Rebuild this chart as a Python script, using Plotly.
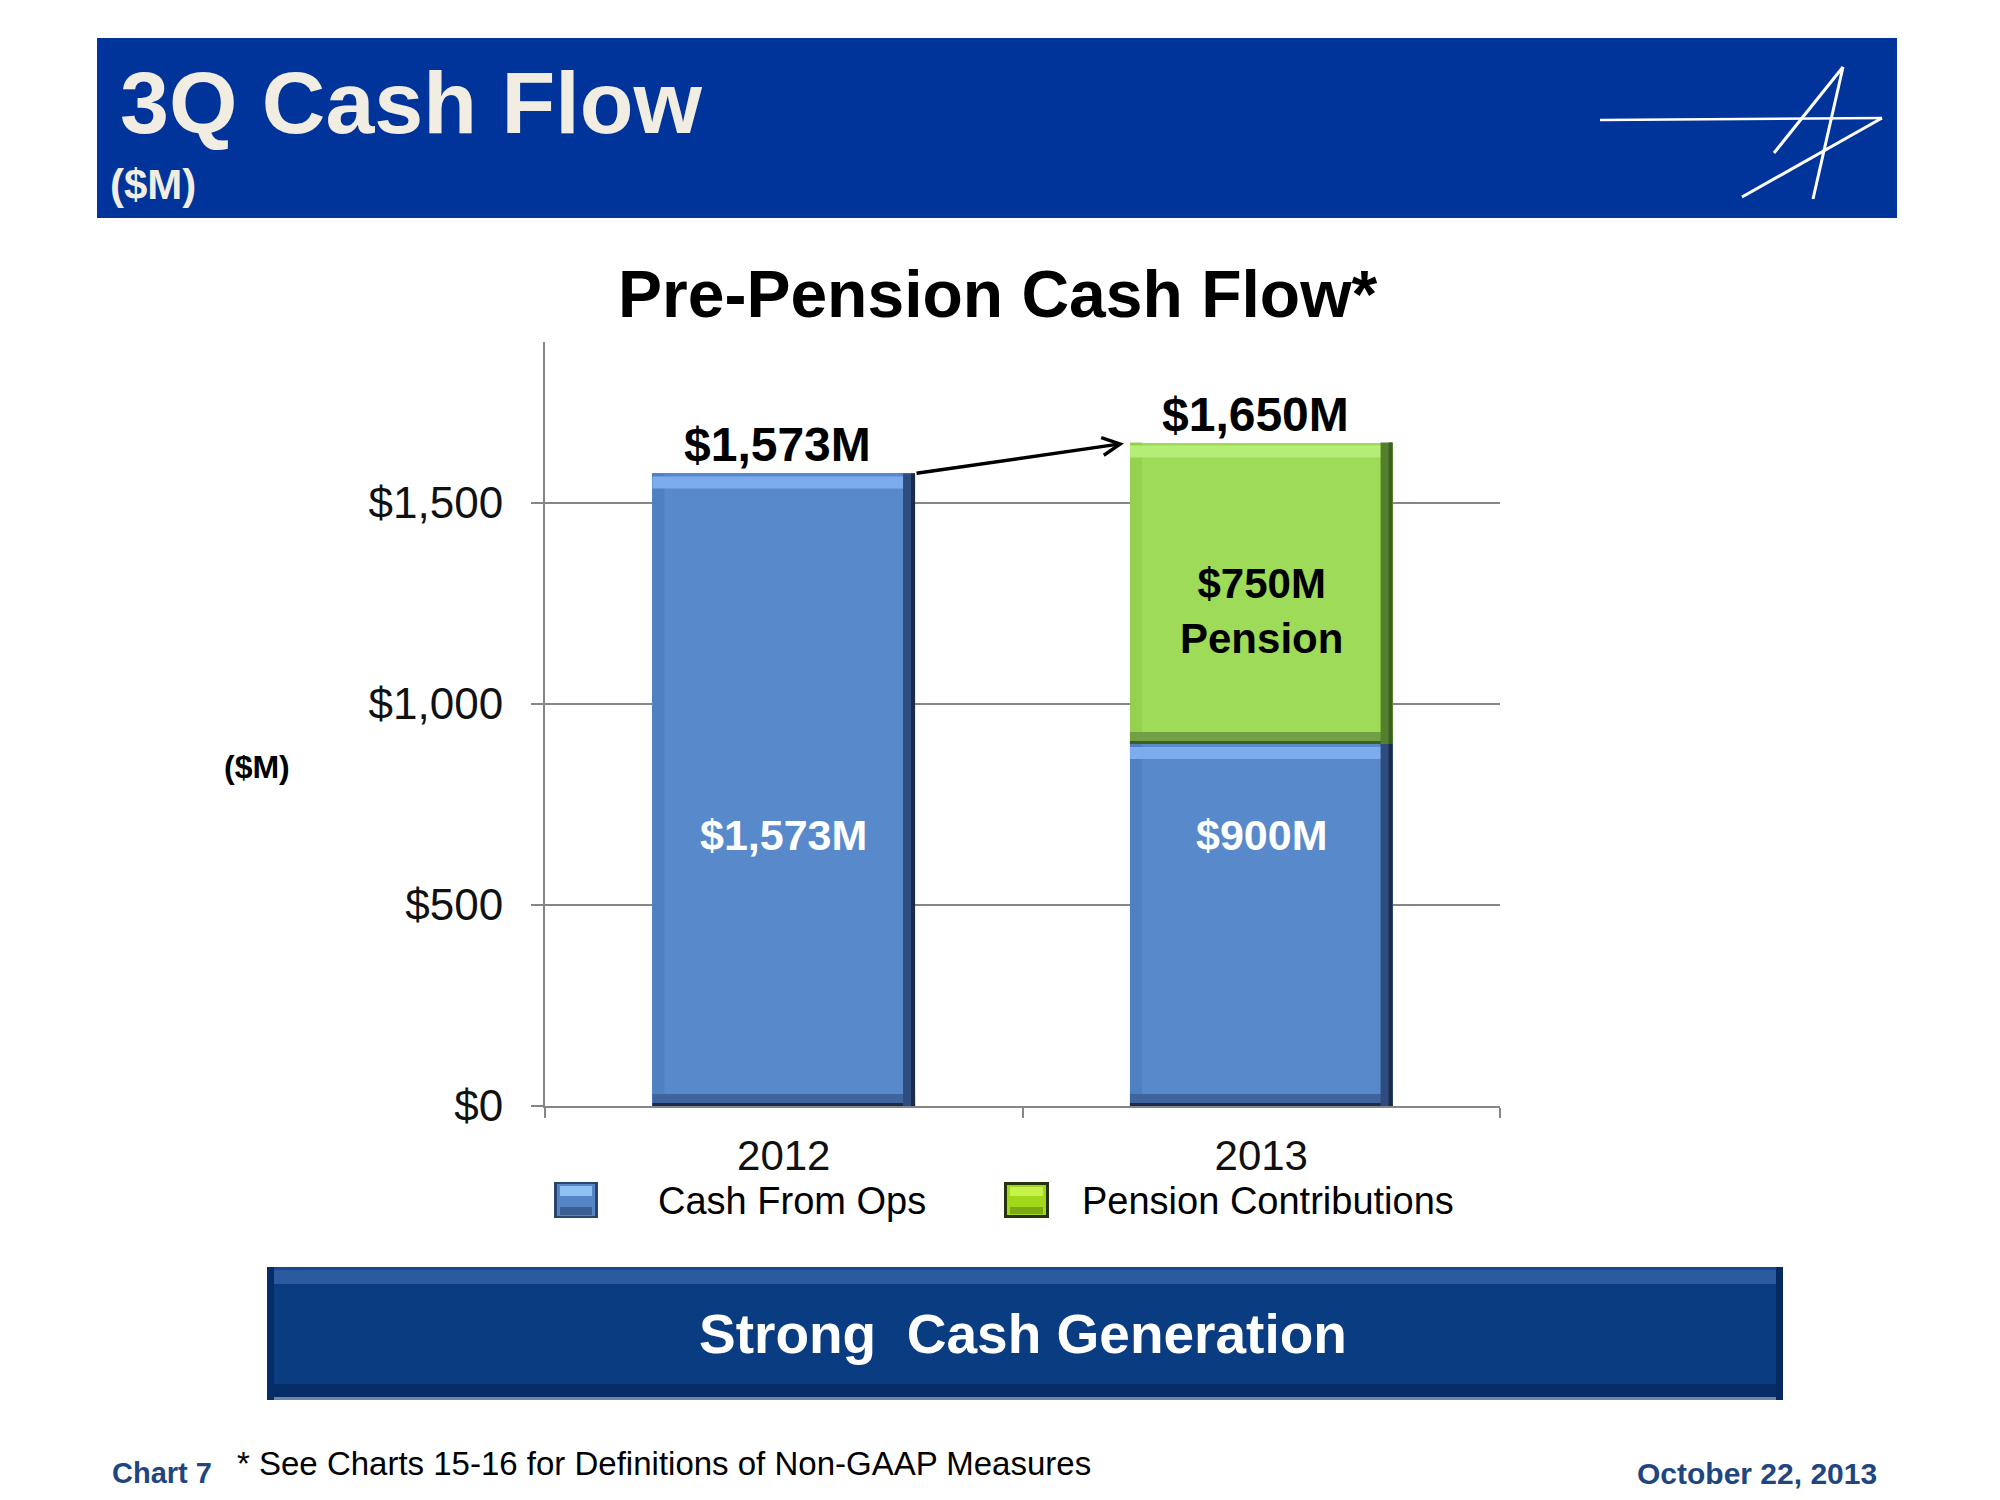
import plotly.graph_objects as go

# ---------------- data ----------------
years = ["2012", "2013"]
cash_from_ops = [1573, 900]
pension_contrib = [0, 750]
total_labels = ["$1,573M", "$1,650M"]
ops_labels = ["$1,573M", "$900M"]
pension_labels = ["", "$750M<br>Pension"]
y_ticks = [0, 500, 1000, 1500]
y_tick_text = ["$0", "$500", "$1,000", "$1,500"]
legend_names = ["Cash From Ops", "Pension Contributions"]

W, H = 2000, 1500
FONT = "Liberation Sans"
BAR_W = 0.55
BLUE = dict(main="#5889cb", top="#7cacee", left="#4f80c2", right="#2e4c7e", edge="#1c2c48", bottom="#40649d")
GREEN = dict(main="#9edb58", top="#b5ed76", left="#93d14f", right="#52802c", edge="#3f5e22", bottom="#739f44")


def px(x):
    return x / W


def py(y):
    return 1 - y / H


fig = go.Figure()
fig.add_trace(go.Bar(x=years, y=cash_from_ops, name=legend_names[0], width=BAR_W,
                     marker=dict(color=BLUE["main"], line=dict(width=0))))
fig.add_trace(go.Bar(x=years, y=pension_contrib, name=legend_names[1], width=BAR_W,
                     marker=dict(color=GREEN["main"], line=dict(width=0))))

shapes = []

# ---- bevel decoration on bar segments (anchored on data values) ----
def bevel(i, base, top, pal):
    xl, xr = i - BAR_W / 2, i + BAR_W / 2
    common = dict(xref="x", yref="y", layer="above", line=dict(width=0))
    shapes.append(dict(type="rect", xsizemode="pixel", xanchor=xl, x0=0, x1=12,
                       y0=base, y1=top, fillcolor=pal["left"], **common))
    shapes.append(dict(type="rect", ysizemode="pixel", yanchor=base, y0=0, y1=12,
                       x0=xl, x1=xr, fillcolor=pal["bottom"], **common))
    shapes.append(dict(type="rect", ysizemode="pixel", yanchor=base, y0=0, y1=3,
                       x0=xl, x1=xr, fillcolor=pal["edge"], **common))
    shapes.append(dict(type="rect", ysizemode="pixel", yanchor=top, y0=-15, y1=-3,
                       x0=xl, x1=xr, fillcolor=pal["top"], **common))
    shapes.append(dict(type="rect", xsizemode="pixel", xanchor=xr, x0=-12, x1=0,
                       y0=base, y1=top, fillcolor=pal["right"], **common))
    shapes.append(dict(type="rect", xsizemode="pixel", xanchor=xr, x0=-4, x1=0,
                       y0=base, y1=top, fillcolor=pal["edge"], **common))


for i in range(len(years)):
    if cash_from_ops[i] > 0:
        bevel(i, 0, cash_from_ops[i], BLUE)
    if pension_contrib[i] > 0:
        bevel(i, cash_from_ops[i], cash_from_ops[i] + pension_contrib[i], GREEN)

# ---- header band ----
shapes.append(dict(type="rect", xref="paper", yref="paper", x0=px(97), x1=px(1897),
                   y0=py(218), y1=py(38), fillcolor="#00349b", line=dict(width=0), layer="below"))
# logo strokes
logo = [((1600, 120), (1882, 118), 2.5), ((1882, 118), (1742, 197), 3),
        ((1843, 67), (1774, 153), 3), ((1843, 67), (1813, 199), 3)]
for (a, b, w) in logo:
    shapes.append(dict(type="line", xref="paper", yref="paper", x0=px(a[0]), y0=py(a[1]),
                       x1=px(b[0]), y1=py(b[1]), line=dict(color="white", width=w)))

# ---- bottom banner ----
def prect(x0, y0, x1, y1, color):
    shapes.append(dict(type="rect", xref="paper", yref="paper", x0=px(x0), x1=px(x1),
                       y0=py(y1), y1=py(y0), fillcolor=color, line=dict(width=0), layer="below"))


prect(267, 1267, 1783, 1400, "#0a3c82")
prect(267, 1267, 1783, 1270, "#16488f")
prect(272, 1270, 1778, 1284, "#2b5a9f")
prect(267, 1384, 1783, 1397, "#072d66")
prect(267, 1397, 1783, 1400, "#6f84a8")
prect(267, 1267, 274, 1400, "#062d68")
prect(1776, 1267, 1783, 1400, "#062a60")

# ---- legend swatches ----
prect(554, 1182, 598, 1218, "#28456e")
prect(557, 1184, 595, 1216, "#5585c4")
prect(560, 1186, 592, 1196, "#8fc0f2")
prect(560, 1207, 592, 1215, "#3c5f92")
prect(1004, 1182, 1049, 1218, "#26330f")
prect(1007, 1185, 1046, 1215, "#a0d81c")
prect(1010, 1187, 1043, 1196, "#c6f24a")
prect(1010, 1207, 1043, 1214, "#7da814")

annotations = []


def ann(text, x, y, size, color="black", bold=False, xanchor="center", yanchor="middle", **kw):
    t = f"<b>{text}</b>" if bold else text
    annotations.append(dict(text=t, x=px(x), y=py(y), xref="paper", yref="paper",
                            showarrow=False, xanchor=xanchor, yanchor=yanchor,
                            font=dict(family=FONT, size=size, color=color), **kw))


ann("3Q Cash Flow", 118, 103, 88, color="#f1ede3", bold=True, xanchor="left")
ann("($M)", 108, 185, 42, color="#f1ede3", bold=True, xanchor="left")
ann("Pre-Pension Cash Flow*", 997, 294, 66, bold=True)
ann("($M)", 257, 767, 32, bold=True)
ann(legend_names[0], 656, 1201, 38, xanchor="left")
ann(legend_names[1], 1080, 1201, 38, xanchor="left")
ann("Strong\u00a0 Cash Generation", 1023, 1334, 55, color="white", bold=True)
ann("Chart 7", 110, 1473, 29, color="#21467f", bold=True, xanchor="left")
ann("* See Charts 15-16 for Definitions of Non-GAAP Measures", 235, 1463, 33, xanchor="left")
ann("October 22, 2013", 1879, 1473, 30, color="#21467f", bold=True, xanchor="right")

# data-driven labels
for i in range(len(years)):
    tot = cash_from_ops[i] + pension_contrib[i]
    annotations.append(dict(text=f"<b>{total_labels[i]}</b>", x=i, y=tot, xref="x", yref="y",
                            showarrow=False, yanchor="bottom", yshift=0, xshift=-6,
                            font=dict(family=FONT, size=48, color="black")))
    annotations.append(dict(text=f"<b>{ops_labels[i]}</b>", x=i, y=675, xref="x", yref="y",
                            showarrow=False, font=dict(family=FONT, size=43, color="white")))
    if pension_contrib[i] > 0:
        annotations.append(dict(text=f"<b>{pension_labels[i]}</b>", x=i,
                                y=cash_from_ops[i] + pension_contrib[i] / 2, yshift=-18,
                                xref="x", yref="y", showarrow=False,
                                font=dict(family=FONT, size=42, color="black")))

# growth arrow
annotations.append(dict(x=1 - BAR_W / 2, y=cash_from_ops[1] + pension_contrib[1], xref="x", yref="y",
                        ax=0 + BAR_W / 2, ay=cash_from_ops[0] + pension_contrib[0], axref="x", ayref="y",
                        showarrow=True, arrowhead=5, arrowsize=1.0, arrowwidth=3.5,
                        arrowcolor="black", standoff=6, text=""))

fig.update_layout(
    width=W, height=H, autosize=False,
    margin=dict(l=0, r=0, t=0, b=0, pad=0),
    paper_bgcolor="white", plot_bgcolor="white",
    barmode="stack", showlegend=False,
    shapes=shapes, annotations=annotations,
    font=dict(family=FONT, color="#111111"),
    xaxis=dict(domain=[px(545), px(1500)], type="category", range=[-0.5, 1.5],
               automargin=False,
               showline=True, linecolor="#868686", linewidth=2,
               ticks="outside", tickson="boundaries", ticklen=10, tickcolor="#868686", tickwidth=2,
               tickfont=dict(family=FONT, size=42, color="#111111"), ticklabelstandoff=12,
               showgrid=False),
    yaxis=dict(domain=[py(1106), py(342)], range=[0, 1900],
               automargin=False,
               tickvals=y_ticks, ticktext=y_tick_text,
               showline=True, linecolor="#868686", linewidth=2,
               ticks="outside", ticklen=12, tickcolor="#868686", tickwidth=2,
               showgrid=True, gridcolor="#868686", gridwidth=2, zeroline=False,
               tickfont=dict(family=FONT, size=44, color="#111111"), ticklabelstandoff=19),
)

fig.write_html("out.html", config={"displayModeBar": False},
               post_script="document.body.style.margin='0px';")
